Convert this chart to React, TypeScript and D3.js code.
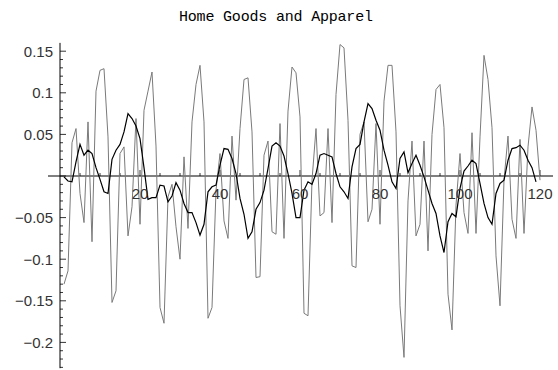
import * as d3 from "d3";

// monthly changes, months 1..120
const grayValues = [
  -0.13, -0.114, 0.04, 0.057, -0.021, -0.056, 0.065, -0.079, 0.102, 0.127, 0.129, 0.047,
  -0.152, -0.138, 0.027, 0.035, -0.072, -0.037, 0.069, -0.058, 0.079, 0.102, 0.125, 0.036,
  -0.158, -0.177, -0.025, -0.01, -0.061, -0.1, 0.023, -0.063, 0.065, 0.11, 0.133, 0.065,
  -0.171, -0.158, -0.017, 0.027, -0.054, -0.075, 0.048, -0.029, 0.057, 0.116, 0.118, 0.053,
  -0.122, -0.121, 0.025, 0.042, -0.067, -0.07, 0.063, -0.075, 0.078, 0.131, 0.124, 0.071,
  -0.165, -0.168, -0.005, 0.057, -0.048, -0.044, 0.057, -0.056, 0.098, 0.158, 0.154, 0.067,
  -0.108, -0.11, 0.05, 0.065, -0.055, -0.04, 0.063, -0.058, 0.09, 0.133, 0.133, 0.053,
  -0.156, -0.218, -0.03, 0.042, -0.072, -0.058, 0.042, -0.09, 0.05, 0.104, 0.11, 0.058,
  -0.142, -0.185, -0.035, 0.027, -0.044, -0.069, 0.052, -0.069, 0.047, 0.145, 0.116, 0.058,
  -0.096, -0.156, -0.005, 0.048, -0.052, -0.075, 0.044, -0.069, 0.035, 0.083, 0.055, -0.005,
];

// smoothed series, months 1..119
const blackValues = [
  -0.001, -0.006, -0.007, 0.017, 0.038, 0.025, 0.031, 0.027, 0.01, -0.004, -0.019, -0.021,
  0.02, 0.031, 0.038, 0.053, 0.075, 0.069, 0.06, 0.045, 0.01, -0.028, -0.026, -0.026,
  -0.011, -0.012, -0.031, -0.024, -0.008, -0.017, -0.033, -0.044, -0.044, -0.056, -0.071, -0.058,
  -0.019, -0.013, -0.011, 0.013, 0.033, 0.032, 0.021, 0.003, -0.027, -0.046, -0.075, -0.067,
  -0.04, -0.032, -0.017, 0.009, 0.036, 0.04, 0.036, 0.024, 0.003, -0.021, -0.05, -0.05,
  -0.017, -0.007, -0.01, 0.003, 0.025, 0.027, 0.025, 0.023, 0.003, -0.013, -0.019, -0.027,
  0.011, 0.033, 0.038, 0.065, 0.087, 0.081, 0.067, 0.055, 0.031, 0.013, -0.007, -0.015,
  0.021, 0.029, 0.004, 0.015, 0.025, 0.013, -0.001, -0.017, -0.033, -0.045, -0.072, -0.092,
  -0.055, -0.045, -0.049, -0.015, 0.006, 0.012, 0.019, 0.015, -0.009, -0.033, -0.05, -0.058,
  -0.021, -0.009, -0.005, 0.019, 0.033, 0.034, 0.037, 0.031, 0.019, 0.01, -0.007,
];

const xTickLabels = [20, 40, 60, 80, 100, 120];
const yTickLabels = [-0.2, -0.15, -0.1, -0.05, 0.05, 0.1, 0.15];

const title = "Home Goods and Apparel";

export default function App() {
  const width = 558;
  const height = 370;

  const x = d3.scaleLinear().domain([0, 120]).range([60, 540]);
  const y = d3.scaleLinear().domain([-0.2, 0.15]).range([342.4, 51.2]);

  const line = d3
    .line<number>()
    .x((d, i) => x(i + 1))
    .y((d) => y(d));

  // minor ticks
  const yMinor = d3.range(-23, 16).map((k) => k / 100);
  const xMinor = d3.range(5, 121, 5);

  const fmt = (v: number) => (v < 0 ? "\u2212" : "") + String(Math.abs(v));

  return (
    <svg
      width={width}
      height={height}
      style={{ position: "absolute", left: 0, top: 0, background: "#fff" }}
    >
      <rect width={width} height={height} fill="#fff" />
      <text
        x={276}
        y={21}
        textAnchor="middle"
        fontFamily="'Liberation Mono', 'Courier New', monospace"
        fontSize={15}
        textLength={194}
        lengthAdjust="spacing"
        fill="#000"
      >
        {title}
      </text>

      {/* axes */}
      <line x1={x(-3)} x2={x(123.25)} y1={y(0)} y2={y(0)} stroke="#000" strokeWidth={1} />
      <line x1={x(0)} x2={x(0)} y1={y(0.16)} y2={y(-0.231)} stroke="#000" strokeWidth={1} />

      {yMinor.map((v) => {
        const major = Math.abs(Math.round(v * 100) % 5) === 0;
        return (
          <line
            key={"ym" + v}
            x1={x(0)}
            x2={x(0) + (major ? 6 : 3)}
            y1={y(v)}
            y2={y(v)}
            stroke="#000"
            strokeWidth={0.8}
          />
        );
      })}
      {xMinor.map((v) => (
        <line
          key={"xm" + v}
          x1={x(v)}
          x2={x(v)}
          y1={y(0)}
          y2={y(0) - (v % 20 === 0 ? 6 : 3)}
          stroke="#000"
          strokeWidth={0.8}
        />
      ))}

      {/* gray series */}
      <path d={line(grayValues) ?? ""} fill="none" stroke="#7a7a7a" strokeWidth={1} />
      {/* black series */}
      <path d={line(blackValues) ?? ""} fill="none" stroke="#000" strokeWidth={1.2} />

      <g fontFamily="'Liberation Sans', Arial, sans-serif" fontSize={15} fill="#333">
        {xTickLabels.map((v) => (
          <text key={"xl" + v} x={x(v)} y={y(0) + 23} textAnchor="middle">
            {v}
          </text>
        ))}
        {yTickLabels.map((v) => (
          <text
            key={"yl" + v}
            x={53}
            y={y(v)}
            textAnchor="end"
            dominantBaseline="central"
          >
            {fmt(v)}
          </text>
        ))}
      </g>
    </svg>
  );
}
